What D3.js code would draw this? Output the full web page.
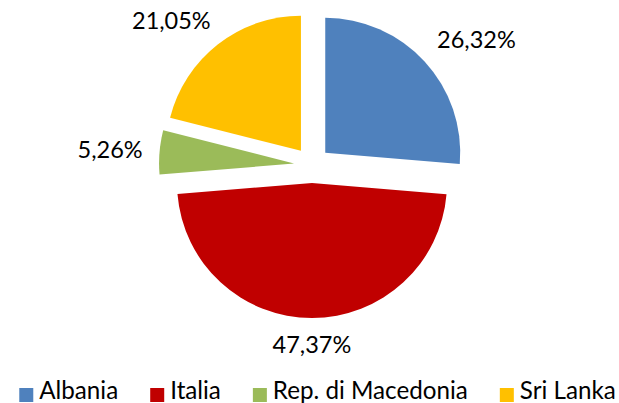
<!DOCTYPE html>
<html>
<head>
<meta charset="utf-8">
<script src="https://cdn.jsdelivr.net/npm/d3@7"></script>
<style>
  html, body { margin: 0; padding: 0; background: #ffffff; }
  svg { display: block; }
  text { font-family: Lato, "Open Sans", sans-serif; fill: #000; }
</style>
</head>
<body>
<div id="chart"></div>
<script>
const categories = ["Albania", "Italia", "Rep. di Macedonia", "Sri Lanka"];
const values = [26.32, 47.37, 5.26, 21.05];
const labels = ["26,32%", "47,37%", "5,26%", "21,05%"];
const colors = ["#4F81BD", "#C00000", "#9BBB59", "#FFC000"];

const W = 619, H = 403;
const cx = 312, cy = 165, R = 135, explode = 18, labelGap = 17;
const fontSize = 23.5, legendFontSize = 24.2;

const svg = d3.select("#chart").append("svg").attr("width", W).attr("height", H);

const data = categories.map((c, i) => ({ name: c, value: values[i], label: labels[i], color: colors[i] }));
const pie = d3.pie().value(d => d.value).sort(null).startAngle(0).endAngle(2 * Math.PI);
const arcs = pie(data);
const arc = d3.arc().innerRadius(0).outerRadius(R);

const g = svg.append("g").attr("transform", `translate(${cx},${cy})`);

g.selectAll("path.slice").data(arcs).enter().append("path")
  .attr("class", "slice")
  .attr("d", arc)
  .attr("fill", d => d.data.color)
  .attr("transform", d => {
    const a = (d.startAngle + d.endAngle) / 2;
    return `translate(${explode * Math.sin(a)},${-explode * Math.cos(a)})`;
  });

// labels: nearest box edge/corner placed just outside the exploded arc, on the slice's mid angle
const clamp = t => Math.max(-1, Math.min(1, t));
const lbl = g.selectAll("text.lbl").data(arcs).enter().append("text")
  .attr("class", "lbl")
  .attr("font-size", fontSize)
  .attr("text-anchor", "middle")
  .text(d => d.data.label);

lbl.each(function(d) {
  const w = this.getComputedTextLength();
  const h = 20;
  const a = (d.startAngle + d.endAngle) / 2;
  const s = Math.sin(a), c = -Math.cos(a);
  const dist = R + explode + labelGap;
  const px = dist * s, py = dist * c;
  const bx = px + (w / 2) * clamp(s * 1.5);
  const by = py + (h / 2) * clamp(c * 1.5);
  d3.select(this)
    .attr("x", bx)
    .attr("y", by + 8.5);
});

// legend
const legend = svg.append("g");
const sq = 14, sqGap = 6, itemGap = 32, legendBaseline = 399;
const items = legend.selectAll("g.item").data(data).enter().append("g").attr("class", "item");
items.append("rect")
  .attr("width", sq).attr("height", sq)
  .attr("y", 388)
  .attr("fill", d => d.color);
items.append("text")
  .attr("font-size", legendFontSize)
  .attr("x", sq + sqGap)
  .attr("y", legendBaseline)
  .text(d => d.name);
let widths = [];
items.each(function() {
  const t = d3.select(this).select("text").node().getComputedTextLength();
  widths.push(sq + sqGap + t);
});
const total = d3.sum(widths) + itemGap * (widths.length - 1);
let x0 = 317.5 - total / 2;
items.attr("transform", (d, i) => {
  const x = x0;
  x0 += widths[i] + itemGap;
  return `translate(${x},0)`;
});
</script>
</body>
</html>
